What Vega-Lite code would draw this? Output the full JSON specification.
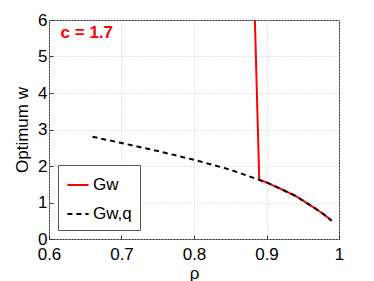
{
  "$schema": "https://vega.github.io/schema/vega-lite/v6.json",
  "width": 290,
  "height": 219,
  "autosize": "none",
  "padding": {"left": 49, "top": 20, "right": 35, "bottom": 42},
  "background": "white",
  "config": {
    "font": "Liberation Sans",
    "view": {"stroke": "#333", "strokeWidth": 1},
    "axis": {
      "labelFont": "Liberation Sans",
      "titleFont": "Liberation Sans",
      "labelFontSize": 17,
      "titleFontSize": 17,
      "titleFontWeight": "normal",
      "labelColor": "black",
      "titleColor": "black",
      "labelOverlap": false,
      "labelFlush": false,
      "domain": false,
      "tickColor": "#333",
      "tickSize": -4,
      "gridColor": "#c8c8c8",
      "gridDash": [1, 2],
      "gridWidth": 1
    }
  },
  "datasets": {
    "curves": [
      {"rho": 0.884, "w": 6.0, "series": "Gw"},
      {"rho": 0.890, "w": 1.62, "series": "Gw"},
      {"rho": 0.90, "w": 1.55, "series": "Gw"},
      {"rho": 0.92, "w": 1.37, "series": "Gw"},
      {"rho": 0.94, "w": 1.18, "series": "Gw"},
      {"rho": 0.96, "w": 0.93, "series": "Gw"},
      {"rho": 0.97, "w": 0.80, "series": "Gw"},
      {"rho": 0.98, "w": 0.66, "series": "Gw"},
      {"rho": 0.99, "w": 0.50, "series": "Gw"},
      {"rho": 0.66, "w": 2.80, "series": "Gw,q"},
      {"rho": 0.70, "w": 2.63, "series": "Gw,q"},
      {"rho": 0.75, "w": 2.41, "series": "Gw,q"},
      {"rho": 0.80, "w": 2.17, "series": "Gw,q"},
      {"rho": 0.85, "w": 1.90, "series": "Gw,q"},
      {"rho": 0.89, "w": 1.62, "series": "Gw,q"},
      {"rho": 0.90, "w": 1.55, "series": "Gw,q"},
      {"rho": 0.92, "w": 1.37, "series": "Gw,q"},
      {"rho": 0.94, "w": 1.18, "series": "Gw,q"},
      {"rho": 0.96, "w": 0.93, "series": "Gw,q"},
      {"rho": 0.97, "w": 0.80, "series": "Gw,q"},
      {"rho": 0.98, "w": 0.66, "series": "Gw,q"},
      {"rho": 0.99, "w": 0.50, "series": "Gw,q"}
    ],
    "note": [{"rho": 0.616, "w": 5.65, "label": "c = 1.7"}]
  },
  "encoding": {
    "x": {
      "field": "rho", "type": "quantitative",
      "scale": {"domain": [0.6, 1], "nice": false},
      "axis": {"values": [0.6, 0.7, 0.8, 0.9, 1], "format": "~g", "title": "ρ", "titlePadding": 3, "labelPadding": 11}
    },
    "y": {
      "field": "w", "type": "quantitative",
      "scale": {"domain": [0, 6], "nice": false},
      "axis": {"values": [0, 1, 2, 3, 4, 5, 6], "title": "Optimum w", "titlePadding": 6, "labelPadding": 6}
    }
  },
  "layer": [
    {
      "data": {"name": "curves"},
      "mark": {"type": "line", "strokeWidth": 2, "clip": true},
      "encoding": {
        "color": {
          "field": "series", "type": "nominal",
          "scale": {"domain": ["Gw", "Gw,q"], "range": ["#ff0000", "#000000"]},
          "legend": {
            "title": null,
            "orient": "none",
            "legendX": 9,
            "legendY": 145,
            "strokeColor": "#555",
            "fillColor": "white",
            "padding": 8,
            "symbolType": "stroke",
            "symbolSize": 450,
            "symbolStrokeWidth": 2,
            "labelFontSize": 17,
            "labelFont": "Liberation Sans",
            "labelColor": "black",
            "labelOffset": 3,
            "rowPadding": 9
          }
        },
        "strokeDash": {
          "field": "series", "type": "nominal",
          "scale": {"domain": ["Gw", "Gw,q"], "range": [[1, 0], [5, 4]]},
          "legend": null
        },
        "order": {"field": "rho"}
      }
    },
    {
      "data": {"name": "note"},
      "mark": {"type": "text", "color": "#ff0000", "fontWeight": "bold", "fontSize": 17, "align": "left", "baseline": "middle", "font": "Liberation Sans"},
      "encoding": {
        "text": {"field": "label"}
      }
    }
  ]
}
